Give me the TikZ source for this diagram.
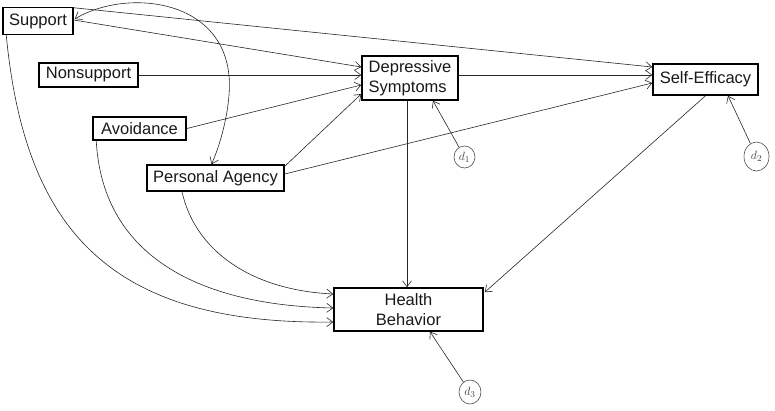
\documentclass[tikz,border=0pt]{standalone}
\usepackage{fontspec}
\setmainfont{Liberation Sans}
\usetikzlibrary{arrows.meta,shapes.geometric}
\begin{document}
\begin{tikzpicture}[x=1pt,y=-1pt,
  var/.style={draw=black,line width=1.5pt,fill=white,inner sep=2pt,font=\fontsize{16.5}{20}\selectfont,text=black!90},
  dist/.style={draw=black!70,line width=0.6pt,ellipse,inner sep=0pt,font=\fontsize{13}{13}\selectfont,text=black!75},
  conn/.style={draw=black!85,line width=0.6pt,-{Straight Barb[length=6pt,width=9pt]}},
  both/.style={draw=black!85,line width=0.6pt,{Straight Barb[length=6pt,width=9pt]}-{Straight Barb[length=6pt,width=9pt]}}]
\useasboundingbox (0,0) rectangle (775,410);
\node[var,minimum width=70pt,minimum height=27pt] (sup) at (38,21) {Support};
\node[var,minimum width=99pt,minimum height=24pt] (non) at (88.5,75) {Nonsupport};
\node[var,minimum width=93pt,minimum height=23pt] (avo) at (139.5,128.5) {Avoidance};
\node[var,minimum width=137pt,minimum height=26pt] (pa) at (215.5,178) {Personal Agency};
\node[var,minimum width=96pt,minimum height=44pt,align=left] (ds) at (410,78) {Depressive\\Symptoms};
\node[var,minimum width=105pt,minimum height=31pt] (se) at (705.5,79.5) {Self-Efficacy};
\node[var,minimum width=149pt,minimum height=43pt,align=center] (hb) at (408.5,309.5) {Health\\Behavior};
\node[dist,minimum width=21pt,minimum height=22pt] (d1) at (464.5,157) {$d_1$};
\node[dist,minimum width=25pt,minimum height=29pt] (d2) at (756.5,156.5) {$d_2$};
\node[dist,minimum width=22pt,minimum height=24pt] (d3) at (470,392) {$d_3$};
% straight paths
\draw[conn] ([yshift=-1pt]sup.north east) -- ([yshift=12.5pt]se.west);
\draw[conn] ([yshift=1pt]sup.east) -- ([yshift=11pt]ds.west);
\draw[conn] (non.east) -- ([yshift=3pt]ds.west);
\draw[conn] (avo.east) -- ([yshift=-7pt]ds.west);
\draw[conn] ([yshift=-2pt]pa.north east) -- ([yshift=-16pt]ds.west);
\draw[conn] ([yshift=3pt]ds.east) -- ([yshift=4.5pt]se.west);
\draw[conn] ([yshift=4pt]pa.east) -- ([yshift=-3.5pt]se.west);
\draw[conn] ([xshift=-3pt]ds.south) -- ([xshift=-1.5pt]hb.north);
\draw[conn] (se.south) -- ([xshift=1pt,yshift=-5pt]hb.north east);
\draw[conn] (d1) -- ([xshift=23pt]ds.south);
\draw[conn] (d2) -- ([xshift=22.5pt]se.south);
\draw[conn] (d3) -- ([xshift=21.5pt]hb.south);
% covariance
\draw[both] ([xshift=1pt,yshift=2pt]sup.east) .. controls (130,-14) and (237,0) .. (229,95)
  .. controls (227,122) and (218,150) .. ([xshift=-4pt]pa.north);
% curved paths to health behavior
\draw[conn] ([xshift=-33.5pt]pa.south) .. controls (195,250) and (250,290) .. ([yshift=15.5pt]hb.west);
\draw[conn] ([xshift=4pt]avo.south west) .. controls (102,250) and (190,305) .. ([yshift=1.5pt]hb.west);
\draw[conn] ([xshift=4pt]sup.south west) .. controls (25,230) and (110,325) .. ([yshift=-12.5pt]hb.west);
\end{tikzpicture}
\end{document}
